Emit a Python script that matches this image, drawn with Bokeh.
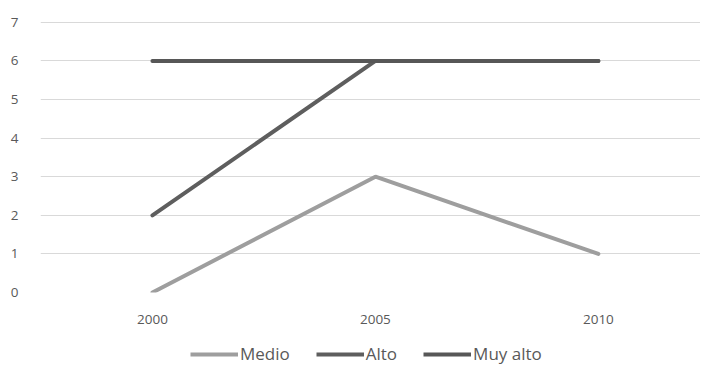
from bokeh.plotting import figure
from bokeh.models import Range1d, FixedTicker, Legend, LegendItem
from bokeh.layouts import column
from bokeh.embed import file_html
from bokeh.resources import INLINE

years = [2000, 2005, 2010]
medio = [0, 3, 1]
alto = [2, 6, 6]
muy_alto = [6, 6, 6]
y_ticks = [0, 1, 2, 3, 4, 5, 6, 7]
names = ["Medio", "Alto", "Muy alto"]
colors = ["#9e9e9e", "#5e5e5e", "#575757"]

p = figure(width=700, height=328, output_backend="svg", toolbar_location=None,
           x_range=Range1d(1997.49, 2012.29), y_range=Range1d(0, 7.02),
           min_border_left=40, min_border_right=0, min_border_top=21, min_border_bottom=36)
p.outline_line_color = None
p.background_fill_color = "white"

series = [medio, alto, muy_alto]
for ys, c in zip(series, colors):
    p.line(years, ys, line_color=c, line_width=4, line_cap="round")

p.xaxis.ticker = FixedTicker(ticks=years)
p.yaxis.ticker = FixedTicker(ticks=y_ticks)
p.xgrid.grid_line_color = None
p.ygrid.grid_line_color = "#d9d9d9"
p.ygrid.grid_line_width = 1
for ax in (p.xaxis, p.yaxis):
    ax.axis_line_color = None
    ax.major_tick_line_color = None
    ax.minor_tick_line_color = None
    ax.major_label_text_font = "Open Sans"
    ax.major_label_text_font_size = "13.5px"
    ax.major_label_text_color = "#595959"
p.yaxis.major_label_standoff = 16
p.xaxis.major_label_standoff = 16

# legend strip below the chart
lg = figure(width=700, height=37, output_backend="svg", toolbar_location=None,
            x_range=Range1d(0, 1), y_range=Range1d(0, 1),
            min_border=0, x_axis_type=None, y_axis_type=None)
lg.outline_line_color = None
lg.grid.grid_line_color = None
items = []
for ys, c, n in zip(series, colors, names):
    r = lg.line(years, ys, line_color=c, line_width=4)
    items.append(LegendItem(label=n, renderers=[r]))
legend = Legend(items=items, orientation="horizontal", location=(150, 0),
                glyph_width=48, glyph_height=14, label_standoff=2, spacing=26,
                label_text_font="Open Sans", label_text_font_size="17px",
                label_text_color="#595959", border_line_color=None,
                background_fill_alpha=0, padding=0, margin=0)
lg.add_layout(legend, "center")

layout = column(p, lg, spacing=0)
open("out.html", "w").write(file_html(layout, INLINE))
